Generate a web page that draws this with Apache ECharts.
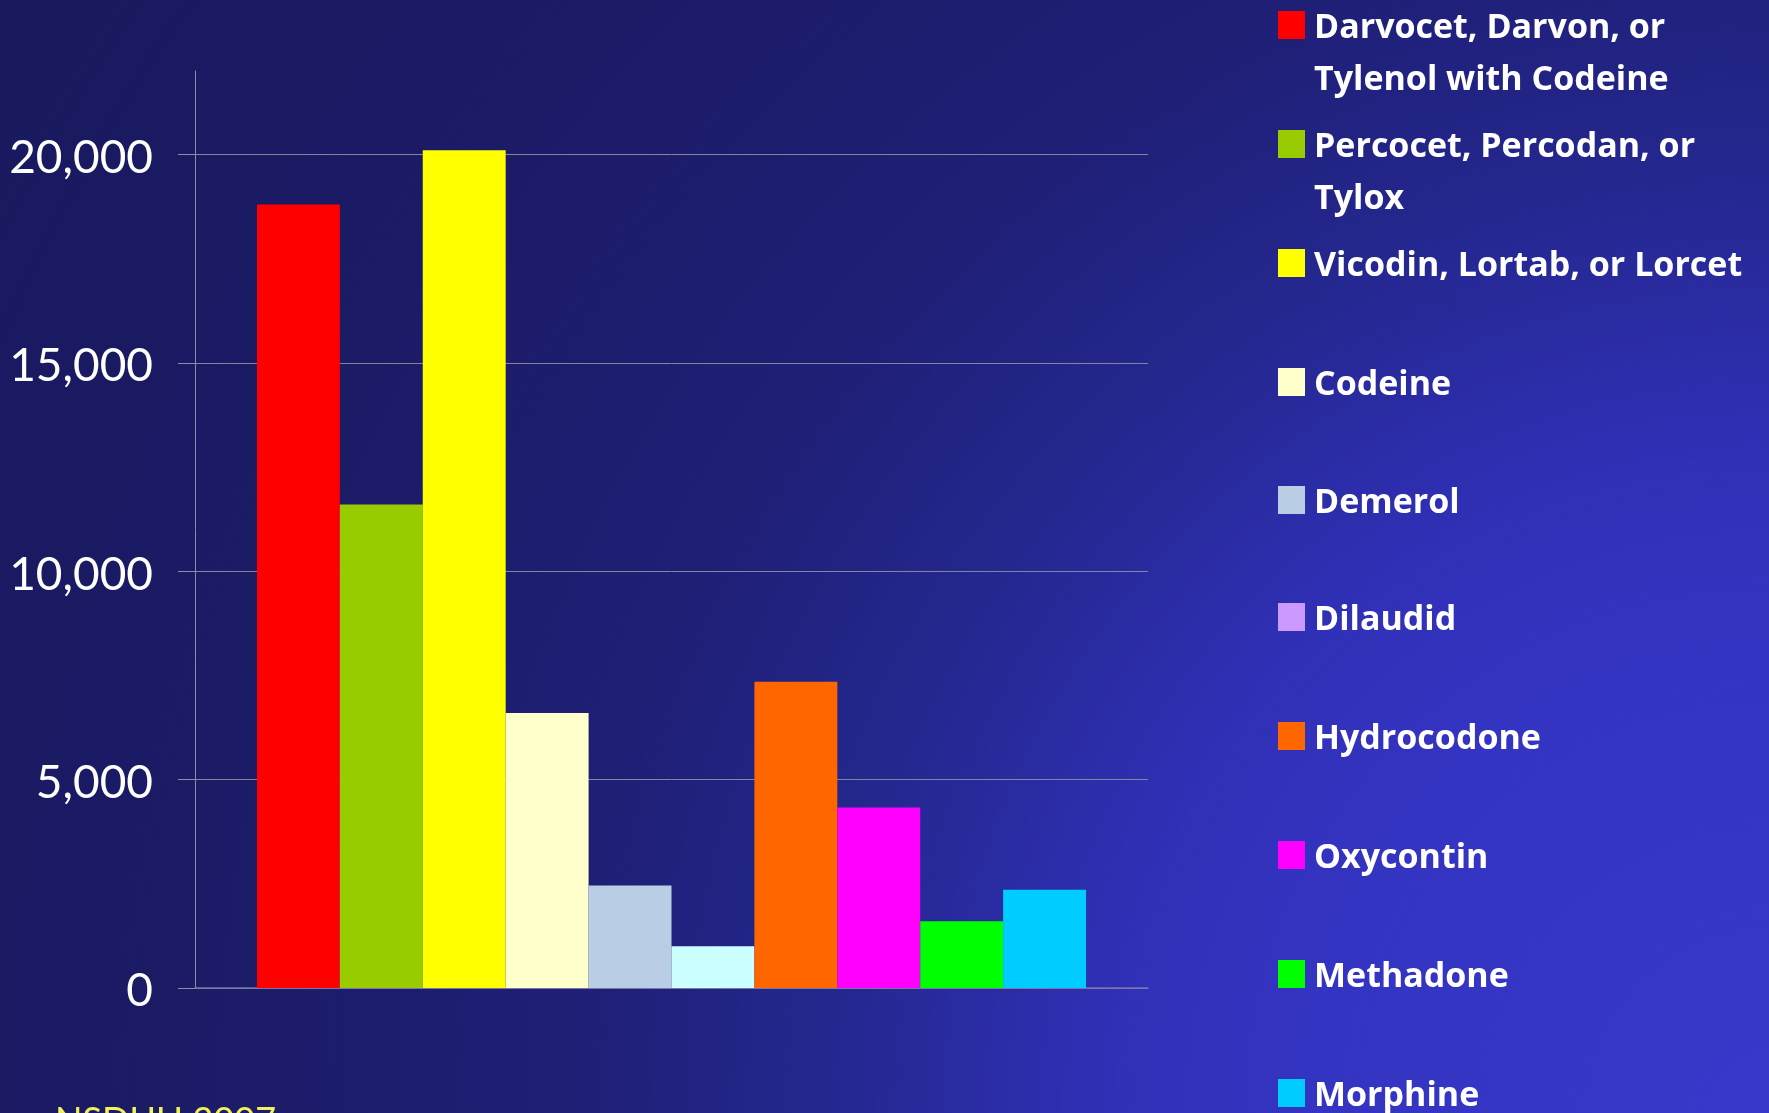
<!DOCTYPE html>
<html>
<head>
<meta charset="utf-8">
<script src="https://cdn.jsdelivr.net/npm/echarts@6/dist/echarts.min.js"></script>
<style>
html,body{margin:0;padding:0;overflow:hidden;background:#1B1B66;}
#chart{width:1769px;height:1113px;}
</style>
</head>
<body>
<div id="chart"></div>
<script>
// ---- data ----
const categories = ['NSDUH 2007'];
const seriesNames = [
  'Darvocet, Darvon, or Tylenol with Codeine',
  'Percocet, Percodan, or Tylox',
  'Vicodin, Lortab, or Lorcet',
  'Codeine',
  'Demerol',
  'Dilaudid',
  'Hydrocodone',
  'Oxycontin',
  'Methadone',
  'Morphine'
];
const legendLabels = [
  'Darvocet, Darvon, or\nTylenol with Codeine',
  'Percocet, Percodan, or\nTylox',
  'Vicodin, Lortab, or Lorcet',
  'Codeine',
  'Demerol',
  'Dilaudid',
  'Hydrocodone',
  'Oxycontin',
  'Methadone',
  'Morphine'
];
const values = [18800, 11600, 20100, 6600, 2460, 1000, 7350, 4330, 1600, 2360];
const barColors = ['#FF0000', '#99CC00', '#FFFF00', '#FFFFCC', '#B9CDE5', '#CCFFFF', '#FF6600', '#FF00FF', '#00FF00', '#00CCFF'];
const legendColors = ['#FF0000', '#99CC00', '#FFFF00', '#FFFFCC', '#B9CDE5', '#CC99FF', '#FF6600', '#FF00FF', '#00FF00', '#00CCFF'];
const yTicks = [0, 5000, 10000, 15000, 20000];
const sourceNote = 'NSDUH 2007';

// ---- layout ----
const legendCenters = [25, 144, 263, 382, 500, 617, 736, 855, 974, 1093];
const LINE_H = 52;
const SPACER_H = 58;

const chart = echarts.init(document.getElementById('chart'), null, {renderer: 'canvas'});

const series = seriesNames.map((n, i) => ({
  name: n,
  type: 'bar',
  barGap: '0%',
  barCategoryGap: '13%',
  itemStyle: {color: legendColors[i]},
  emphasis: {disabled: true},
  data: [{value: values[i], itemStyle: {color: barColors[i]}}]
}));

const legendFont = {color: '#FFFFFF', fontFamily: 'Open Sans', fontWeight: 'bold', fontSize: 34, lineHeight: LINE_H};

const legends = seriesNames.map((n, i) => ({
  data: [{name: n, icon: 'rect'}],
  orient: 'vertical',
  left: 1278,
  top: legendCenters[i] - (SPACER_H + 2 * LINE_H) / 2,
  padding: 0,
  itemWidth: 27,
  itemHeight: 28,
  selectedMode: false,
  formatter: () => {
    const parts = legendLabels[i].split('\n');
    const l1 = parts[0];
    const l2 = parts.length > 1 ? parts[1] : ' ';
    return '{s| }\n{t|' + l1 + '}\n{t|' + l2 + '}';
  },
  textStyle: Object.assign({}, legendFont, {
    rich: {
      s: {lineHeight: SPACER_H, fontSize: 10},
      t: Object.assign({}, legendFont, {padding: [0, 0, 0, 4]})
    }
  })
}));

const fmt = v => (v > 20000 ? '' : '{v|' + Number(v).toLocaleString('en-US') + '}');

chart.setOption({
  animation: false,
  backgroundColor: {
    type: 'radial', x: 1769, y: 1113, r: 2100, global: true,
    colorStops: [
      {offset: 0, color: '#3838CA'},
      {offset: 0.22, color: '#3434C2'},
      {offset: 0.31, color: '#3030B8'},
      {offset: 0.45, color: '#24278E'},
      {offset: 0.57, color: '#1F1F76'},
      {offset: 0.76, color: '#1B1B66'},
      {offset: 1, color: '#19195F'}
    ]
  },
  grid: {left: 195, right: 621, top: 71, bottom: 125, outerBoundsMode: 'none', containLabel: false},
  legend: legends,
  xAxis: {
    type: 'category',
    data: categories,
    axisLine: {show: true, lineStyle: {color: '#7474A8', width: 1.5}},
    axisTick: {show: false},
    axisLabel: {show: false},
    splitLine: {show: false}
  },
  yAxis: {
    type: 'value',
    min: 0,
    max: 22000,
    interval: 5000,
    axisLine: {show: true, lineStyle: {color: '#8C8CA4', width: 1}},
    axisTick: {show: true, inside: false, length: 17, customValues: yTicks, lineStyle: {color: '#8C8CA4', width: 1}},
    axisLabel: {
      customValues: yTicks,
      margin: 42,
      color: '#FFFFFF',
      fontFamily: 'Lato',
      fontSize: 46,
      formatter: fmt,
      rich: {
        v: {color: '#FFFFFF', fontFamily: 'Lato', fontSize: 46, padding: [7, 0, 0, 0]}
      }
    },
    splitLine: {
      show: true,
      lineStyle: {color: ['#8484A0', '#8484A0', '#8484A0', '#8484A0', '#8484A0', 'rgba(0,0,0,0)'], width: 1}
    }
  },
  graphic: [{
    type: 'text',
    left: 55,
    top: 1103,
    silent: true,
    style: {text: sourceNote, fill: '#F2F25A', font: '36px Lato'}
  }],
  series: series
});
</script>
</body>
</html>
